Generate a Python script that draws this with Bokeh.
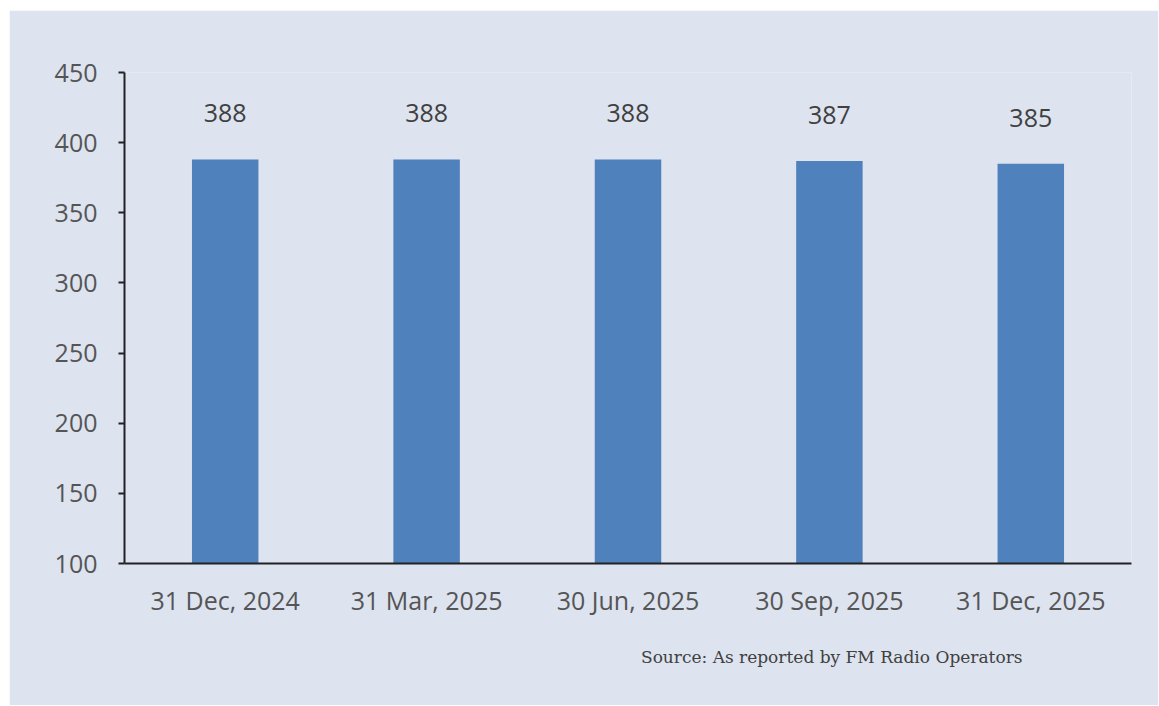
from bokeh.plotting import figure
from bokeh.models import ColumnDataSource, LabelSet, Title, FixedTicker, Range1d
from bokeh.core.properties import value
from bokeh.embed import file_html
from bokeh.resources import INLINE

categories = ["31 Dec, 2024", "31 Mar, 2025", "30 Jun, 2025", "30 Sep, 2025", "31 Dec, 2025"]
values = [388, 388, 388, 387, 385]
y_ticks = [100, 150, 200, 250, 300, 350, 400, 450]
source_note = "Source: As reported by FM Radio Operators"

BG = "#dde3ef"
BAR = "#4f81bd"
TXT = "#555555"

src = ColumnDataSource(dict(cat=categories, val=values, lab=[str(v) for v in values]))

p = figure(x_range=categories, y_range=Range1d(100, 450), width=1149, height=695,
           margin=(10, 0, 0, 9),
           output_backend="svg", toolbar_location=None,
           background_fill_color=BG, border_fill_color=BG, outline_line_color=None,
           min_border_left=115, min_border_right=27, min_border_top=62, min_border_bottom=142)

p.vbar(x="cat", top="val", bottom=100, width=0.33, source=src, color=BAR, line_color=None)

p.xgrid.visible = False
p.ygrid.visible = False

p.yaxis.ticker = FixedTicker(ticks=y_ticks)
p.yaxis.major_tick_out = 6
p.yaxis.major_tick_in = 0
p.yaxis.minor_tick_line_color = None
p.yaxis.axis_line_color = "#222222"
p.yaxis.axis_line_width = 2
p.yaxis.major_tick_line_color = "#222222"
p.yaxis.major_tick_line_width = 2
p.yaxis.major_label_text_font = "Open Sans"
p.yaxis.major_label_text_font_size = "25px"
p.yaxis.major_label_text_color = TXT
p.yaxis.major_label_standoff = 21

p.xaxis.major_tick_line_color = None
p.xaxis.major_tick_out = 0
p.xaxis.axis_line_color = "#222222"
p.xaxis.axis_line_width = 2
p.xaxis.major_label_text_font = "Open Sans"
p.xaxis.major_label_text_font_size = "25px"
p.xaxis.major_label_text_color = TXT
p.xaxis.major_label_standoff = 19

labels = LabelSet(x="cat", y="val", text="lab", source=src, y_offset=46,
                  text_align="center", text_baseline="middle",
                  text_font=value("Open Sans"), text_font_size=value("25px"), text_color=value("#404040"))
p.add_layout(labels)

note = Title(text=source_note, align="right", offset=109, standoff=51,
             text_font="DejaVu Serif", text_font_size="17px", text_font_style="normal",
             text_color="#404040")
p.add_layout(note, "below")

open("out.html", "w").write(file_html(p, INLINE))
